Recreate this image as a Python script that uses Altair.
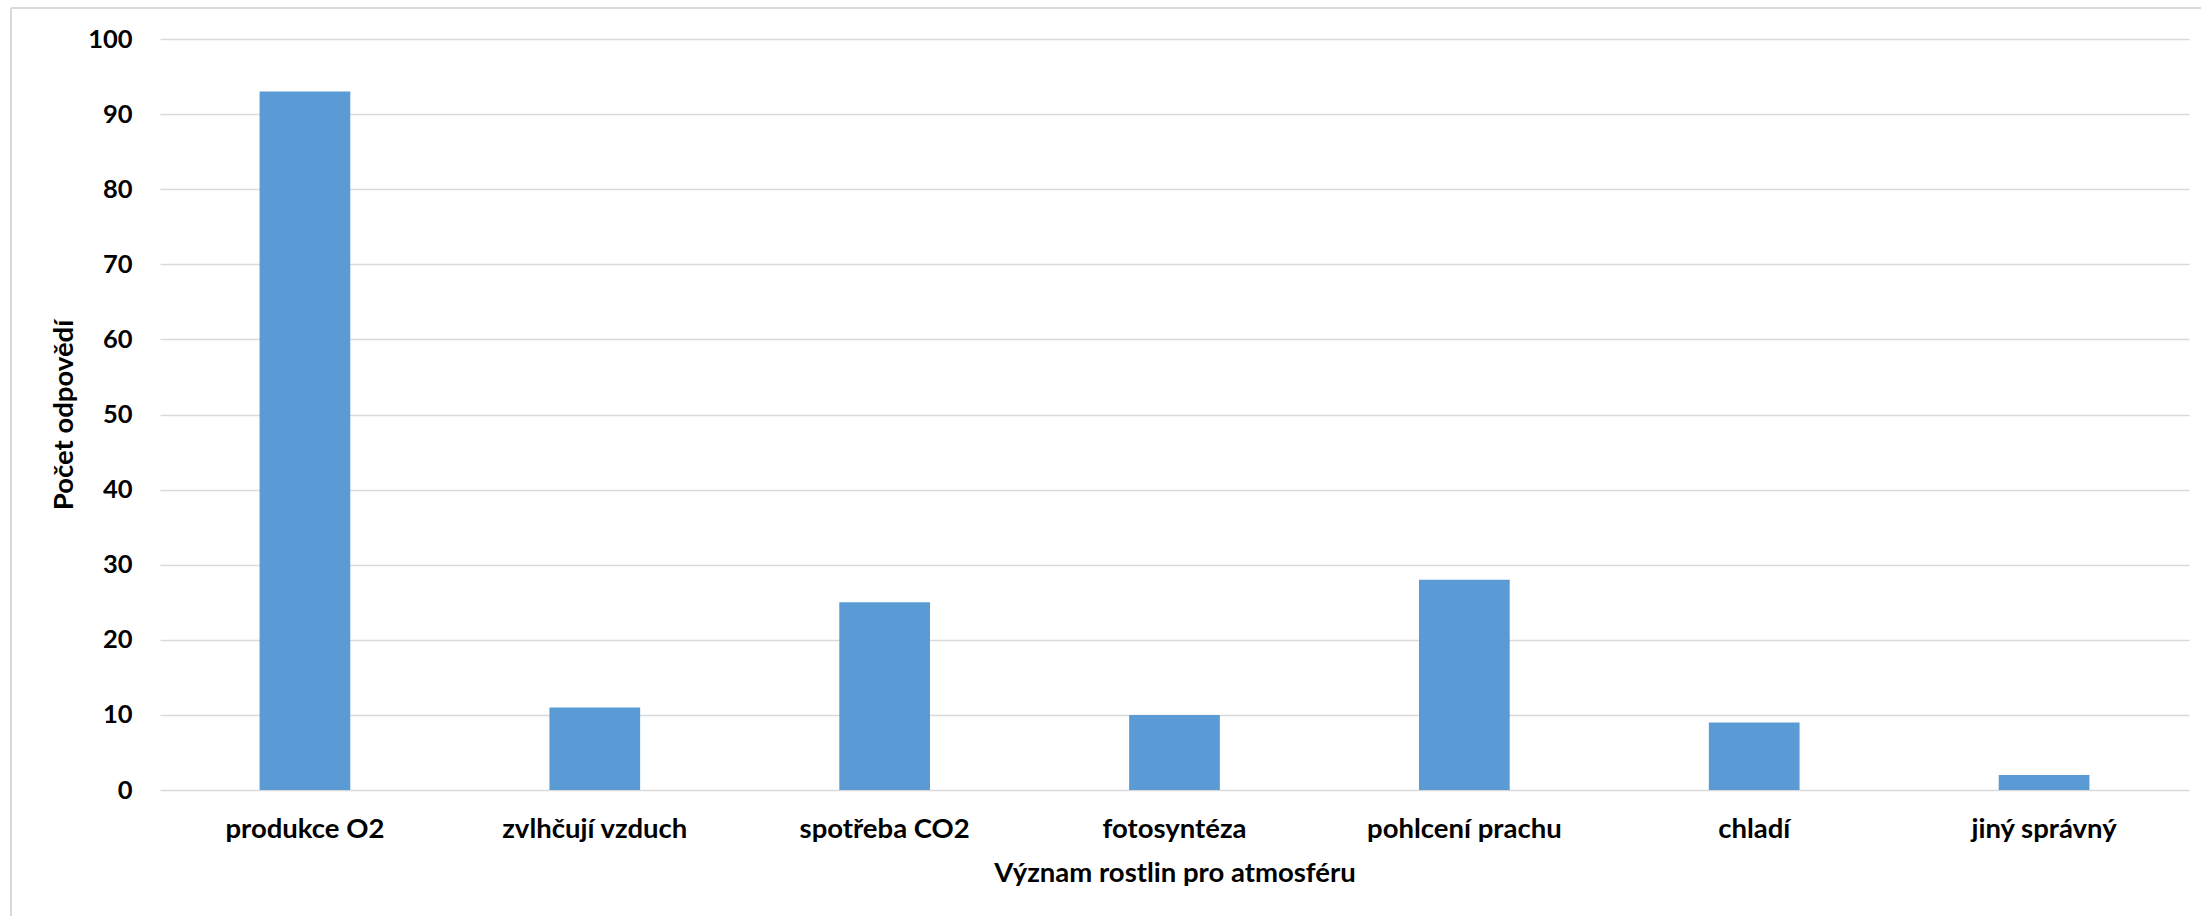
import altair as alt
import pandas as pd

# Survey answers: what plants do for the atmosphere
categories = [
    "produkce O2",
    "zvlhčují vzduch",
    "spotřeba CO2",
    "fotosyntéza",
    "pohlcení prachu",
    "chladí",
    "jiný správný",
]
counts = [93, 11, 25, 10, 28, 9, 2]
y_ticks = [0, 10, 20, 30, 40, 50, 60, 70, 80, 90, 100]

FONT = "Lato"
GRID = "#d9d9d9"
BAR = "#5b9bd5"

W, H = 2029, 751
PAD = {"left": 160, "top": 39, "right": 12, "bottom": 126}

df = pd.DataFrame({"kategorie": categories, "pocet": counts})

bars = alt.Chart(df).mark_bar(color=BAR).encode(
    x=alt.X(
        "kategorie:N",
        sort=categories,
        scale=alt.Scale(paddingInner=0.687, paddingOuter=0.3435),
        axis=alt.Axis(
            title="Význam rostlin pro atmosféru",
            ticks=False,
            domain=False,
            labelAngle=0,
            labelLimit=0,
            labelFontSize=27.5,
            labelBaseline="alphabetic",
            labelPadding=47,
            titleFontSize=27.5,
            titleBaseline="alphabetic",
            titleX=W / 2,
            titleY=91,
            titleAlign="center",
        ),
    ),
    y=alt.Y(
        "pocet:Q",
        scale=alt.Scale(domain=[0, 100], nice=False, zero=True),
        axis=alt.Axis(
            title="Počet odpovědí",
            values=y_ticks,
            ticks=False,
            domain=False,
            grid=True,
            labelFontSize=25.5,
            labelPadding=28,
            labelAlign="right",
            labelBaseline="middle",
            titleFontSize=27.5,
            titleAngle=270,
            titleBaseline="alphabetic",
            titleAlign="center",
            titleX=-88,
            titleY=H / 2,
        ),
    ),
)

# Light frame around the chart (top and left edges)
frame = pd.DataFrame({"k": [0]})
top_edge = alt.Chart(frame).mark_rule(color=GRID, strokeWidth=2).encode(
    x=alt.value(-149), x2=alt.value(W + 12), y=alt.value(-31)
)
left_edge = alt.Chart(frame).mark_rule(color=GRID, strokeWidth=2).encode(
    x=alt.value(-149), y=alt.value(-31), y2=alt.value(H + 126)
)

chart = (
    alt.layer(bars, top_edge, left_edge)
    .properties(
        width=W,
        height=H,
        padding=PAD,
        autosize=alt.AutoSizeParams(type="none"),
        background="white",
    )
    .configure_view(stroke=None)
    .configure_axis(
        labelFont=FONT,
        titleFont=FONT,
        labelFontWeight="bold",
        titleFontWeight="bold",
        labelColor="#000000",
        titleColor="#000000",
        gridColor=GRID,
        gridWidth=1.5,
    )
)

chart.save("out.html", embed_options={"renderer": "svg", "actions": False})
